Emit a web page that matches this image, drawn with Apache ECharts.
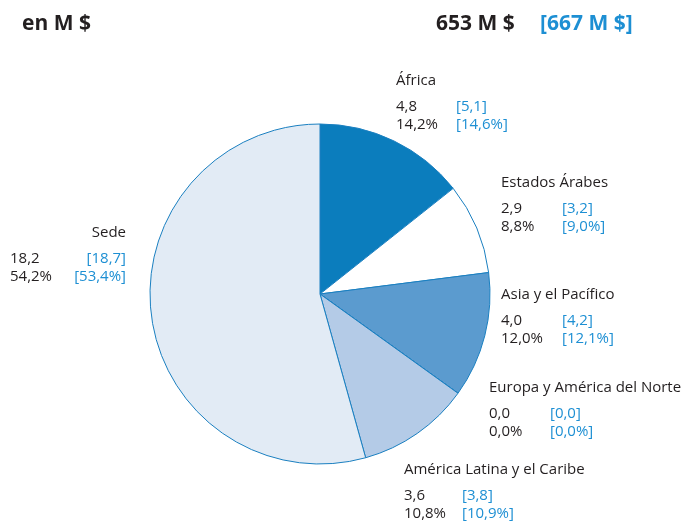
<!DOCTYPE html>
<html>
<head>
<meta charset="utf-8">
<script src="https://cdn.jsdelivr.net/npm/echarts@6/dist/echarts.min.js"></script>
<style>
  html, body { margin: 0; padding: 0; background: #fff; }
  #chart { width: 685px; height: 522px; }
</style>
</head>
<body>
<div id="chart"></div>
<script>
// datos (en M $), año actual y [año anterior]
const regions = ['África', 'Estados Árabes', 'Asia y el Pacífico', 'Europa y América del Norte', 'América Latina y el Caribe', 'Sede']
const values = [4.8, 2.9, 4.0, 0.0, 3.6, 18.2]
const shares = [14.2, 8.8, 12.0, 0.0, 10.8, 54.2]
const prevValues = [5.1, 3.2, 4.2, 0.0, 3.8, 18.7]
const prevShares = [14.6, 9.0, 12.1, 0.0, 10.9, 53.4]
const unitLabel = 'en M $'
const totals = ['653 M $', '[667 M $]']

const colors = ['#0b7dbd', '#ffffff', '#5b9bcf', '#8fb6df', '#b4cbe7', '#e2ebf5']
// label placement: [x, top, align], column width
const labelPos = [[396, 65, 'left'], [501, 167, 'left'], [501, 279, 'left'], [489, 372, 'left'], [404, 454, 'left'], [126, 217, 'right']]
const colWidth = [60, 61, 61, 61, 58, 62]

const dark = '#231f20'
const blue = '#1d8fd3'
const font = '"Open Sans", "Noto Sans", sans-serif'

function fmt (v) {
  return v.toFixed(1).replace('.', ',')
}

const rich = {
  n: { fontFamily: font, fontSize: 15, color: dark, lineHeight: 32 },
  b: { fontFamily: font, fontSize: 15, color: blue, lineHeight: 18.5 },
  br: { fontFamily: font, fontSize: 15, color: blue, lineHeight: 18.5, width: 54, align: 'right' }
}
colWidth.forEach((w, i) => {
  rich['v' + i] = { fontFamily: font, fontSize: 15, color: dark, lineHeight: 18.5, width: w, align: 'left' }
})

const myChart = echarts.init(document.getElementById('chart'))
myChart.setOption({
  animation: false,
  graphic: [
    { type: 'text', left: 22, top: 14, style: { text: unitLabel, font: 'bold 21px ' + font, fill: dark } },
    { type: 'text', left: 436, top: 14, style: { text: totals[0], font: 'bold 21px ' + font, fill: dark } },
    { type: 'text', left: 540, top: 14, style: { text: totals[1], font: 'bold 21px ' + font, fill: blue } }
  ],
  series: [
    {
      type: 'pie',
      center: [320, 294],
      radius: 170,
      startAngle: 90,
      clockwise: true,
      avoidLabelOverlap: false,
      itemStyle: { borderColor: '#1a7fc0', borderWidth: 1 },
      emphasis: { disabled: true },
      label: {
        show: true,
        position: 'outside',
        formatter: (p) => {
          const i = p.dataIndex
          const b = i === 5 ? 'br' : 'b'
          return '{n|' + regions[i] + '}\n' +
            '{v' + i + '|' + fmt(values[i]) + '}{' + b + '|[' + fmt(prevValues[i]) + ']}\n' +
            '{v' + i + '|' + fmt(shares[i]) + '%}{' + b + '|[' + fmt(prevShares[i]) + '%]}'
        },
        rich: rich
      },
      labelLine: { show: false },
      labelLayout: (params) => {
        const p = labelPos[params.dataIndex]
        return { x: p[0], y: p[1], align: p[2], verticalAlign: 'top' }
      },
      data: regions.map((name, i) => ({
        name: name,
        value: values[i],
        itemStyle: { color: colors[i] }
      }))
    }
  ]
})
</script>
</body>
</html>
